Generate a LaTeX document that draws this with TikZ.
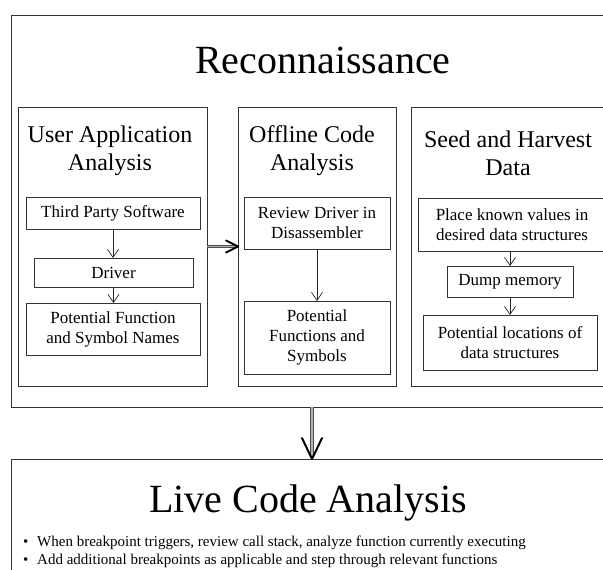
\documentclass[tikz,border=0pt]{standalone}
\usepackage{fontspec}
\setmainfont{Liberation Serif}
\usetikzlibrary{arrows.meta}
\begin{document}
\begin{tikzpicture}[x=1pt,y=-1pt,
  frame/.style={draw=black!80, line width=0.9pt, inner sep=0pt, outer sep=0pt},
  ibox/.style={draw=black!80, line width=0.8pt, inner sep=0pt, outer sep=0pt, align=center, font=\fontsize{17}{20}\selectfont},
  bigtitle/.style={font=\fontsize{40}{48}\selectfont, inner sep=0pt, anchor=base},
  subtitle/.style={font=\fontsize{24}{28}\selectfont, inner sep=0pt, anchor=base, align=center},
  flow/.style={draw=black!85, line width=0.7pt, -{Straight Barb[length=8pt,width=11pt]}},
  dshaft/.style={draw=black!70, line width=0.7pt, double=black!30, double distance=1.8pt},
  dhead/.style={draw=black, line width=2pt, line join=round, line cap=round}
]
\useasboundingbox (0,0) rectangle (603,570);
\clip (0,0) rectangle (603,570);
\fill[white] (0,0) rectangle (603,570);

% outer boxes
\node[frame, minimum width=602pt, minimum height=392pt] (recon) at (312,211) {};
\node[bigtitle] (recontitle) at (323,73) {Reconnaissance};

\node[frame, minimum width=189pt, minimum height=279pt] (b1) at (112.5,246.5) {};
\node[frame, minimum width=158pt, minimum height=279pt] (b2) at (317,246.5) {};
\node[frame, minimum width=229pt, minimum height=279pt] (b3) at (525.5,246.5) {};

\node[subtitle] (t1) at (110,170) {User Application\\Analysis};
\node[subtitle] (t2) at (312,170) {Offline Code\\Analysis};
\node[subtitle] (t3) at (508,175) {Seed and Harvest\\Data};

% box 1
\node[ibox, minimum width=174pt, minimum height=32pt] (tps) at (113,213) {Third Party Software};
\node[ibox, minimum width=159pt, minimum height=29pt] (drv) at (113.5,272.5) {Driver};
\node[ibox, minimum width=174pt, minimum height=52pt] (pfsn) at (113,329) {Potential Function\\and Symbol Names};
\draw[flow] (tps.south) -- (tps.south |- drv.north);
\draw[flow] (drv.south) -- (drv.south |- pfsn.north);

% box 2
\node[ibox, minimum width=146pt, minimum height=52pt] (rdd) at (317,223) {Review Driver in\\Disassembler};
\node[ibox, minimum width=146pt, minimum height=73pt] (pfs) at (317,337.5) {Potential\\Functions and\\Symbols};
\draw[flow] (rdd.south) -- (pfs.north);

% box 3
\node[ibox, minimum width=188pt, minimum height=53pt] (pkv) at (512,224.5) {Place known values in\\desired data structures};
\node[ibox, minimum width=126pt, minimum height=31pt] (dm) at (510,281.5) {Dump memory};
\node[ibox, minimum width=174pt, minimum height=55pt] (plds) at (510,342.5) {Potential locations of\\data structures};
\draw[flow] (dm.north |- pkv.south) -- (dm.north);
\draw[flow] (dm.south) -- (dm.south |- plds.north);

% live box
\node[frame, minimum width=602pt, minimum height=161pt] (live) at (312,539.5) {};
\node[bigtitle] (livetitle) at (308,512) {Live Code Analysis};
\node[anchor=base west, align=left, inner sep=0pt, font=\fontsize{15}{18}\selectfont] (bul) at (23,564)
  {\makebox[14pt][l]{\textbullet}When breakpoint triggers, review call stack, analyze function currently executing\\
   \makebox[14pt][l]{\textbullet}Add additional breakpoints as applicable and step through relevant functions};

% double arrows
\draw[dshaft, shorten >=3pt] (b1.east) -- (b2.west);
\draw[dhead] ([shift={(-12pt,6pt)}]b2.west) -- (b2.west) -- ([shift={(-12pt,-6pt)}]b2.west);
\draw[dshaft, shorten >=3pt] (recon.south) -- (live.north);
\draw[dhead] ([shift={(-10pt,21pt)}]live.north) -- (live.north) -- ([shift={(10pt,21pt)}]live.north);
\end{tikzpicture}
\end{document}
